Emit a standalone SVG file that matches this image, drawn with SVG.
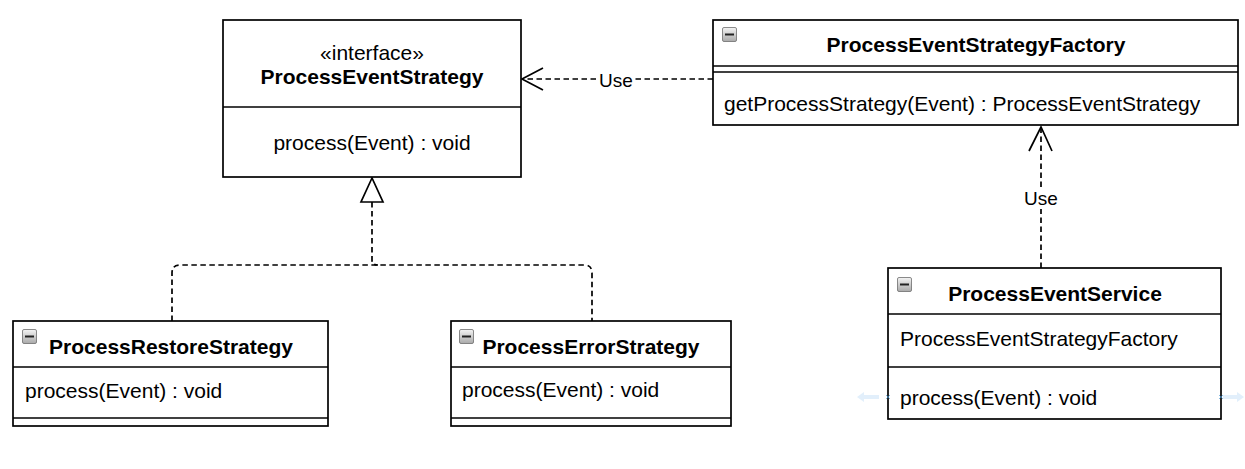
<svg xmlns="http://www.w3.org/2000/svg" width="1245" height="469" viewBox="0 0 1245 469">
<style>
.box{fill:#fff;stroke:#000;stroke-width:1.7}
.ln{stroke:#000;stroke-width:1.7;fill:none}
.t{font-family:"Liberation Sans",Arial,sans-serif;font-size:21px;fill:#000}
.b{font-weight:bold}
.m{text-anchor:middle}
.dash{stroke:#000;stroke-width:1.7;fill:none;stroke-dasharray:5.5 3.5}
.lbl{font-family:"Liberation Sans",Arial,sans-serif;font-size:19px;fill:#000;text-anchor:middle}
.icon{fill:url(#ig);stroke:#6d6d6d;stroke-width:0.8}
.minus{stroke:#222;stroke-width:2}
</style>
<defs>
<linearGradient id="ig" x1="0" y1="0" x2="0" y2="1">
<stop offset="0" stop-color="#f4f4f4"/>
<stop offset="1" stop-color="#a9a9a9"/>
</linearGradient>
</defs>
<rect width="1245" height="469" fill="#fff"/>

<g id="connectors">
<path class="dash" d="M713,79 H522"/>
<path class="ln" d="M543,68 L522,79 L543,90"/>
<rect x="597" y="70" width="38" height="20" fill="#fff"/>
<text class="lbl" x="616" y="87">Use</text>
<path class="dash" d="M1041,268 V127"/>
<path class="ln" d="M1029,151 L1041,127 L1052,151"/>
<rect x="1022" y="187" width="38" height="22" fill="#fff"/>
<text class="lbl" x="1041" y="205">Use</text>
<path class="dash" d="M172,321 V273 Q172,265 180,265 H584 Q592,265 592,273 V321"/>
<path class="dash" d="M372,202 V260 Q372,265 378,265"/>
<path class="box" d="M372,178 L361,202 H383 Z"/>
</g>

<g id="ProcessEventStrategy">
<rect class="box" x="223" y="20" width="298" height="157"/>
<line class="ln" x1="223" y1="107" x2="521" y2="107"/>
<text class="t m" x="372" y="60">«interface»</text>
<text class="t b m" x="372" y="84">ProcessEventStrategy</text>
<text class="t m" x="372" y="150">process(Event) : void</text>
</g>

<g id="ProcessEventStrategyFactory">
<rect class="box" x="713" y="20" width="525" height="105"/>
<line class="ln" x1="713" y1="66" x2="1238" y2="66"/>
<line class="ln" x1="713" y1="72" x2="1238" y2="72"/>
<rect class="icon" x="722.5" y="27.5" width="14" height="14" rx="1.5"/>
<line class="minus" x1="725" y1="34.5" x2="734" y2="34.5"/>
<text class="t b m" x="976" y="52">ProcessEventStrategyFactory</text>
<text class="t" x="724" y="111">getProcessStrategy(Event) : ProcessEventStrategy</text>
</g>

<g id="ProcessEventService">
<rect class="box" x="888" y="268" width="333" height="151"/>
<line class="ln" x1="888" y1="314" x2="1221" y2="314"/>
<line class="ln" x1="888" y1="367" x2="1221" y2="367"/>
<rect class="icon" x="897.5" y="277.5" width="14" height="14" rx="1.5"/>
<line class="minus" x1="900" y1="284.5" x2="909" y2="284.5"/>
<text class="t b m" x="1055" y="301">ProcessEventService</text>
<text class="t" x="900" y="346">ProcessEventStrategyFactory</text>
<text class="t" x="900" y="405">process(Event) : void</text>
</g>

<g id="ProcessRestoreStrategy">
<rect class="box" x="13" y="321" width="315" height="105"/>
<line class="ln" x1="13" y1="367" x2="328" y2="367"/>
<line class="ln" x1="13" y1="418" x2="328" y2="418"/>
<rect class="icon" x="22.5" y="329.5" width="14" height="14" rx="1.5"/>
<line class="minus" x1="25" y1="336.5" x2="34" y2="336.5"/>
<text class="t b m" x="171" y="354">ProcessRestoreStrategy</text>
<text class="t" x="25" y="398">process(Event) : void</text>
</g>

<g id="ProcessErrorStrategy">
<rect class="box" x="451" y="321" width="280" height="105"/>
<line class="ln" x1="451" y1="367" x2="731" y2="367"/>
<line class="ln" x1="451" y1="418" x2="731" y2="418"/>
<rect class="icon" x="459.5" y="329.5" width="14" height="14" rx="1.5"/>
<line class="minus" x1="462" y1="336.5" x2="471" y2="336.5"/>
<text class="t b m" x="591" y="354">ProcessErrorStrategy</text>
<text class="t" x="462" y="397">process(Event) : void</text>
</g>

<g id="hover-artifacts" opacity="0.6">
<path d="M857,397 L864,392 V395 H879 V399 H864 V402 Z" fill="#cfe6fa"/>
<path d="M1244,397 L1237,392 V395 H1223 V399 H1237 V402 Z" fill="#cfe6fa"/>
<path d="M886,395 L890,399 M890,395 L886,399 M1219,395 L1223,399 M1223,395 L1219,399" stroke="#3a8fd0" stroke-width="1"/>
</g>
</svg>
